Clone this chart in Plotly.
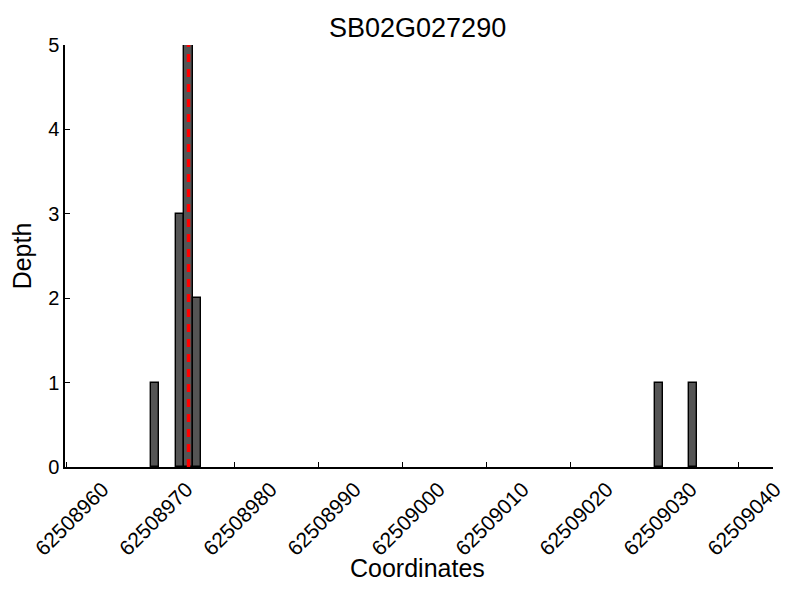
import plotly.graph_objects as go

# Data
bin_starts = [62508970, 62508973, 62508974, 62508975, 62509030, 62509034]
depths = [1, 3, 5, 2, 1, 1]
bin_width = 1
marker_pos = 62508974.5
title_text = "SB02G027290"
x_title = "Coordinates"
x_tick_vals = [62508960, 62508970, 62508980, 62508990, 62509000,
               62509010, 62509020, 62509030, 62509040]
y_tick_vals = [0, 1, 2, 3, 4, 5]

fig = go.Figure()
fig.add_trace(go.Bar(
    x=bin_starts, y=depths, width=bin_width, offset=0,
    marker=dict(color="#555555", line=dict(color="black", width=1.4)),
    showlegend=False,
))
fig.add_shape(
    type="line", xref="x", yref="y",
    x0=marker_pos, x1=marker_pos, y0=0, y1=max(depths),
    line=dict(color="#ff0000", width=3.5, dash="8px,7px"),
    layer="above",
)

font_family = "Liberation Sans, Arial, sans-serif"
fig.update_layout(
    width=800, height=600,
    margin=dict(l=57, r=35, t=37, b=141, autoexpand=False),
    paper_bgcolor="white", plot_bgcolor="white",
    font=dict(family=font_family, color="black"),
    title=dict(text=title_text, x=0.512, xanchor="center", y=0.967, yanchor="middle",
               font=dict(size=27, family=font_family, color="black")),
    bargap=0,
)
fig.add_annotation(
    text=x_title, xref="paper", yref="paper", x=0.498, y=-0.239,
    xanchor="center", yanchor="middle", showarrow=False,
    font=dict(size=25, family=font_family, color="black"),
)
fig.update_xaxes(
    range=[62508959.8, 62509044.05],
    tickvals=x_tick_vals, ticktext=[str(v) for v in x_tick_vals],
    tickangle=-45, tickfont=dict(size=21),
    ticklabelshift=36, ticklabelstandoff=0,
    ticks="inside", ticklen=5, tickcolor="black", tickwidth=1,
    showline=True, linecolor="black", linewidth=1.5,
    showgrid=False, zeroline=False, automargin=False,
)
fig.update_yaxes(
    range=[0, 5],
    tickvals=y_tick_vals,
    tickfont=dict(size=20),
    ticks="inside", ticklen=5, tickcolor="black", tickwidth=1,
    showline=True, linecolor="black", linewidth=1.5,
    showgrid=False, zeroline=False, automargin=False,
    title=dict(text="Depth", font=dict(size=25), standoff=13),
)

fig.write_html("out.html")
